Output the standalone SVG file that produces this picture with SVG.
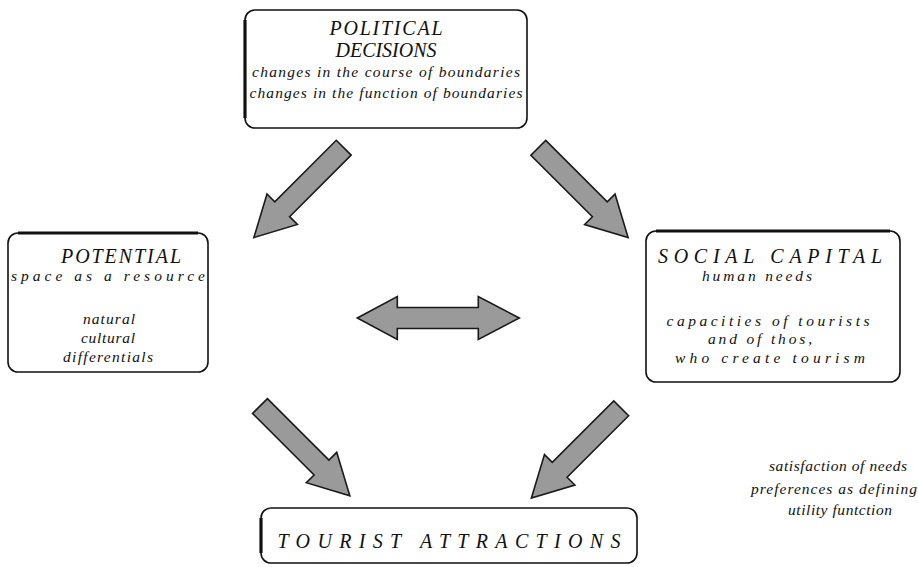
<svg xmlns="http://www.w3.org/2000/svg" width="918" height="567" viewBox="0 0 918 567">
<style>
.box{fill:#fff;stroke:#111;stroke-width:1.6}
.thick{stroke:#111;stroke-width:3.2;fill:none}
.t{font-family:"Liberation Serif","Times New Roman",serif;font-style:italic;fill:#111;text-anchor:middle}
.h{font-size:20px}
.s{font-size:15.5px}
.arr{fill:#9a9a9a;stroke:#1a1a1a;stroke-width:1.6;stroke-linejoin:miter}
</style>
<defs>
<path id="a" d="M0,-10.5 L87,-10.5 L87,-21.5 L127,0 L87,21.5 L87,10.5 L0,10.5 Z"/>
</defs>
<rect width="918" height="567" fill="#fff"/>
<g id="political">
<rect class="box" x="245" y="10" width="282" height="118" rx="10"/>
<line class="thick" x1="245" y1="20" x2="245" y2="118"/>
<text class="t h" x="386" y="35" textLength="113" lengthAdjust="spacing">POLITICAL</text>
<text class="t h" x="386" y="57" textLength="101" lengthAdjust="spacing">DECISIONS</text>
<text class="t s" x="386" y="77" textLength="268" lengthAdjust="spacing">changes in the course of boundaries</text>
<text class="t s" x="386" y="98" textLength="273" lengthAdjust="spacing">changes in the function of boundaries</text>
</g>
<g id="potential">
<rect class="box" x="8" y="233" width="200" height="139" rx="10"/>
<line class="thick" x1="18" y1="233" x2="198" y2="233"/>
<text class="t h" x="121" y="263" textLength="120" lengthAdjust="spacing">POTENTIAL</text>
<text class="t s" x="108" y="281" textLength="194" lengthAdjust="spacing">space as a resource</text>
<text class="t s" x="109" y="324" textLength="52" lengthAdjust="spacing">natural</text>
<text class="t s" x="108" y="343" textLength="54" lengthAdjust="spacing">cultural</text>
<text class="t s" x="108" y="362" textLength="90" lengthAdjust="spacing">differentials</text>
</g>
<g id="social">
<rect class="box" x="646" y="231" width="254" height="151" rx="10"/>
<line class="thick" x1="656" y1="231" x2="890" y2="231"/>
<text class="t h" x="770" y="263" textLength="224" lengthAdjust="spacing">SOCIAL CAPITAL</text>
<text class="t s" x="757" y="281" textLength="110" lengthAdjust="spacing">human needs</text>
<text class="t s" x="768" y="326" textLength="203" lengthAdjust="spacing">capacities of tourists</text>
<text class="t s" x="760" y="344" textLength="104" lengthAdjust="spacing">and of thos,</text>
<text class="t s" x="770" y="363" textLength="190" lengthAdjust="spacing">who create tourism</text>
</g>
<g id="attractions">
<rect class="box" x="261" y="508" width="376" height="55" rx="10"/>
<line class="thick" x1="261" y1="518" x2="261" y2="553"/>
<text class="t h" x="449" y="548" textLength="343" lengthAdjust="spacing">TOURIST ATTRACTIONS</text>
</g>
<g id="label">
<text class="t s" x="838" y="471" textLength="138" lengthAdjust="spacing">satisfaction of needs</text>
<text class="t s" x="834" y="494" textLength="166" lengthAdjust="spacing">preferences as defining</text>
<text class="t s" x="840" y="515" textLength="104" lengthAdjust="spacing">utility funtction</text>
</g>
<g id="connectors">
<use href="#a" class="arr" transform="translate(343.7,147.7) rotate(135)"/>
<use href="#a" class="arr" transform="translate(538.3,147.8) rotate(45)"/>
<use href="#a" class="arr" transform="translate(260,406) rotate(45)"/>
<use href="#a" class="arr" transform="translate(621.2,408.3) rotate(135)"/>
<path class="arr" d="M357.3,318 L397.3,296.5 L397.3,307.5 L478.3,307.5 L478.3,296.5 L519.3,318 L478.3,339.5 L478.3,328.5 L397.3,328.5 L397.3,339.5 Z"/>
</g>
</svg>
